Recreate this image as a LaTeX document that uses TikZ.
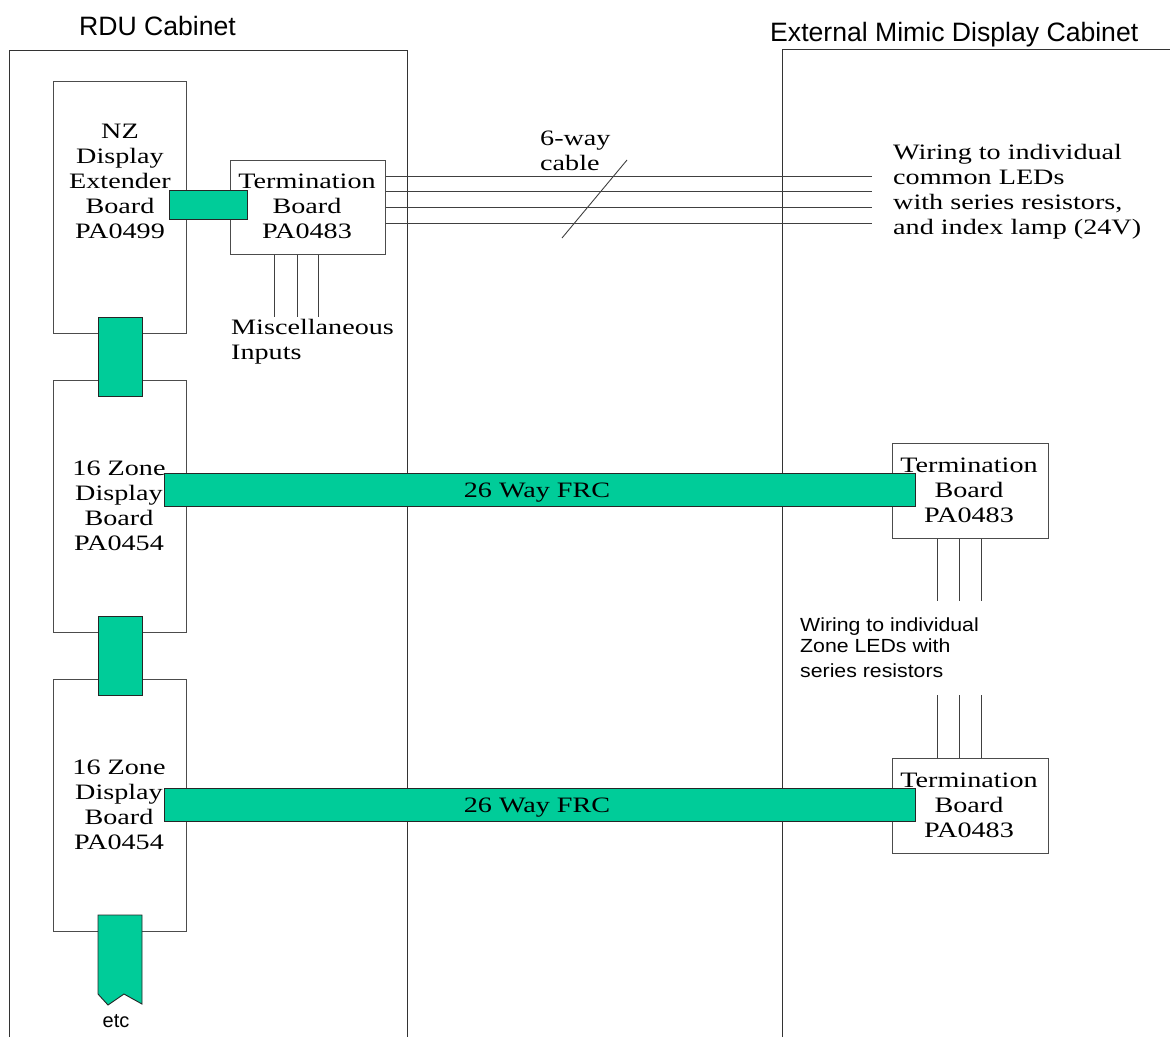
\documentclass[tikz,border=0pt]{standalone}
\usepackage{fontspec}
\newfontfamily\serf[FakeStretch=1.28]{Liberation Serif}
\newfontfamily\sanf{Liberation Sans}
\newfontfamily\sanw[FakeStretch=1.12]{Liberation Sans}
\definecolor{frcgreen}{HTML}{00CC99}
\begin{document}
\begin{tikzpicture}[x=1pt,y=-1pt,
  cab/.style={draw=black!80, line width=1pt},
  board/.style={draw=black!70, line width=1pt, fill=white, inner sep=0pt},
  conn/.style={draw=black!85, fill=frcgreen, line width=0.9pt, inner sep=0pt},
  wire/.style={draw=black!75, line width=1pt},
  stxt/.style={font=\serf\fontsize{22}{25}\selectfont, inner sep=0pt},
  atxt/.style={font=\sanw\fontsize{19}{25}\selectfont, inner sep=0pt, align=left},
  htxt/.style={font=\sanf\fontsize{26.6}{30}\selectfont, inner sep=0pt}]
\useasboundingbox (0,0) rectangle (1170,1037);
\fill[white] (0,0) rectangle (1170,1037);

% cabinets
\draw[cab] (9,1037) -- (9,50) -- (407,50) -- (407,1037);
\draw[cab] (782,1037) -- (782,49) -- (1170,49);
\node[htxt, anchor=base west] (rdu) at (79,35) {RDU Cabinet};
\node[htxt, anchor=base west] (ext) at (770,41) {External Mimic Display Cabinet};

% boards
\node[board, minimum width=133, minimum height=252] (nz) at (119.5,207) {};
\node[board, minimum width=133, minimum height=252] (zb2) at (119.5,506) {};
\node[board, minimum width=133, minimum height=252] (zb3) at (119.5,805) {};
\node[board, minimum width=155, minimum height=94] (tb1) at (307.5,207) {};
\node[board, minimum width=156, minimum height=95] (tbr1) at (970,490.5) {};
\node[board, minimum width=156, minimum height=95] (tbr2) at (970,805.5) {};

% board texts
\node[stxt, align=center] (nzt) at (120,181.5) {NZ\\Display\\Extender\\Board\\PA0499};
\node[stxt, align=center] (tbt) at (307,206.5) {Termination\\Board\\PA0483};
\node[stxt, align=center] (z2t) at (119,506) {16 Zone\\Display\\Board\\PA0454};
\node[stxt, align=center] (z3t) at (119,805) {16 Zone\\Display\\Board\\PA0454};
\node[stxt, align=center] (tr1t) at (969,490) {Termination\\Board\\PA0483};
\node[stxt, align=center] (tr2t) at (969,805) {Termination\\Board\\PA0483};

% top wiring (6-way cable)
\coordinate (w1e) at (872,176);
\coordinate (w2e) at (872,191);
\coordinate (w3e) at (872,207);
\coordinate (w4e) at (872,223);
\draw[wire] (tb1.east |- w1e) -- (w1e);
\draw[wire] (tb1.east |- w2e) -- (w2e);
\draw[wire] (tb1.east |- w3e) -- (w3e);
\draw[wire] (tb1.east |- w4e) -- (w4e);
\coordinate (s1) at (562,238);
\coordinate (s2) at (627,160);
\draw[wire, line width=0.9pt] (s1) -- (s2);
\node[stxt, anchor=north west, align=left] (sixway) at (540,131) {6-way\\cable};
\node[stxt, anchor=north west, align=left] (wiretop) at (893,144)
  {Wiring to individual\\common LEDs\\with series resistors,\\and index lamp (24V)};

% miscellaneous inputs
\coordinate (m1) at (274,317);
\coordinate (m2) at (297,317);
\coordinate (m3) at (318,317);
\draw[wire] (m1 |- tb1.south) -- (m1);
\draw[wire] (m2 |- tb1.south) -- (m2);
\draw[wire] (m3 |- tb1.south) -- (m3);
\node[stxt, anchor=north west, align=left] (misc) at (231,319) {Miscellaneous\\Inputs};

% right-side zone wiring
\coordinate (r1) at (937,601);
\coordinate (r2) at (959,601);
\coordinate (r3) at (981,601);
\coordinate (q1) at (937,695);
\coordinate (q2) at (959,695);
\coordinate (q3) at (981,695);
\draw[wire] (r1 |- tbr1.south) -- (r1);
\draw[wire] (r2 |- tbr1.south) -- (r2);
\draw[wire] (r3 |- tbr1.south) -- (r3);
\draw[wire] (q1) -- (q1 |- tbr2.north);
\draw[wire] (q2) -- (q2 |- tbr2.north);
\draw[wire] (q3) -- (q3 |- tbr2.north);
\node[atxt, anchor=north west] (wirezone) at (800,618)
  {Wiring to individual\\[-4pt]Zone LEDs with\\series resistors};

% green connectors
\node[conn, minimum width=78, minimum height=29] (ca) at (208,204.5) {};
\node[conn, minimum width=44, minimum height=79] (c1) at (120,356.5) {};
\node[conn, minimum width=44, minimum height=79] (c2) at (120,655.5) {};
\node[conn, minimum width=751, minimum height=33] (frc1) at (539.5,489.5) {};
\node[conn, minimum width=751, minimum height=33] (frc2) at (539.5,804.5) {};
\node[stxt, anchor=base] (frc1t) at (537,497) {26 Way FRC};
\node[stxt, anchor=base] (frc2t) at (537,812) {26 Way FRC};
\draw[conn] (98,915) -- (98,994) -- (108,1005) -- (124,994) -- (142,1004) -- (142,915) -- cycle;
\node[font=\sanf\fontsize{20}{24}\selectfont, inner sep=0pt, anchor=base] (etc) at (116,1027) {etc};
\end{tikzpicture}
\end{document}
